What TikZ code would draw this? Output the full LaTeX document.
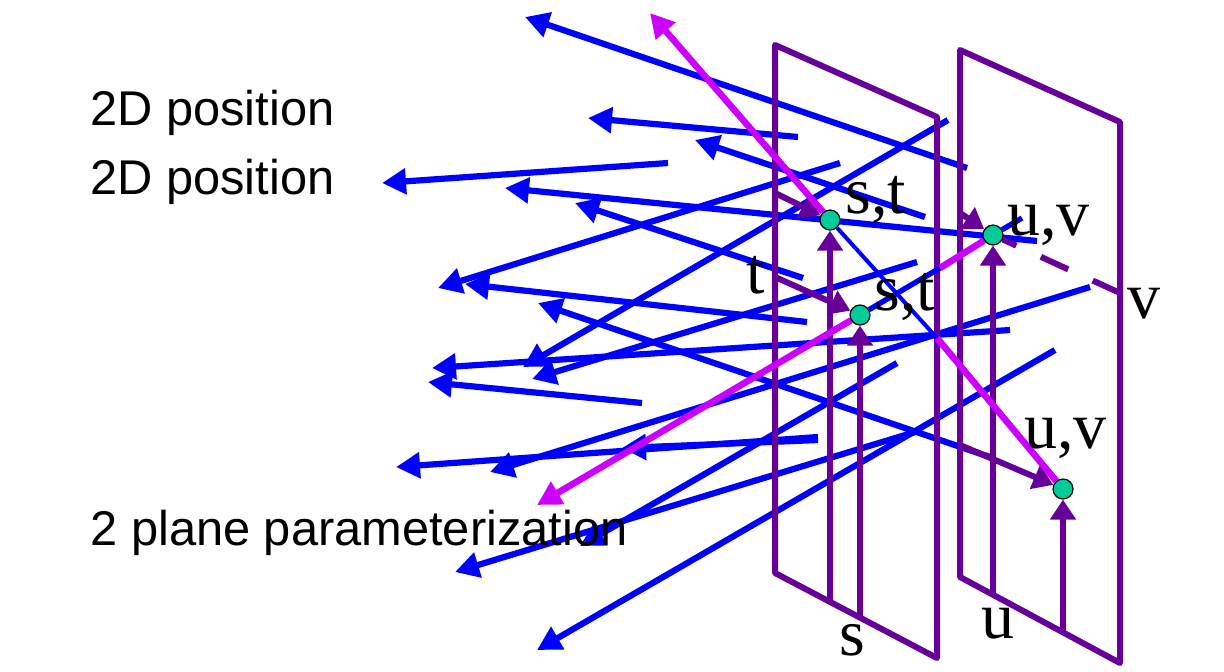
\documentclass[tikz,border=0pt]{standalone}
\usepackage{fontspec}
\setmainfont{Liberation Serif}
\newfontfamily\sidesans{Liberation Sans}
\definecolor{rayblue}{HTML}{0000FF}
\definecolor{planeviolet}{HTML}{660099}
\definecolor{beammagenta}{HTML}{CC00FF}
\definecolor{hitgreen}{HTML}{00CC99}
\usetikzlibrary{arrows.meta,backgrounds}

\begin{document}
\begin{tikzpicture}[x=0.5pt,y=-0.5pt,>={Triangle[length=12pt,width=12.5pt]},
  ray/.style={rayblue,line width=3.1pt,->},
  plane/.style={planeviolet,line width=3pt,line join=round},
  paxis/.style={planeviolet,line width=3pt,-{Triangle[length=10pt,width=12.5pt]}},
  beam/.style={beammagenta,line width=3.3pt},
  hit/.style={circle,draw=black,line width=0.6pt,fill=hitgreen,minimum size=10pt,inner sep=0pt},
  param/.style={font=\fontsize{33}{33}\selectfont,inner sep=0pt,anchor=base west},
  sidetext/.style={font=\sidesans\fontsize{24.4}{24.4}\selectfont,inner sep=0pt,anchor=base west}]
\useasboundingbox (0,0) rectangle (1224,671);
\node[hit] (st1) at (830,220) {};
\node[hit] (st2) at (860,315) {};
\node[hit] (uv1) at (993,235) {};
\node[hit] (uv2) at (1063,489) {};
\node[sidetext] (pos1) at (90,125) {2D position};
\node[sidetext] (pos2) at (90,194) {2D position};
\node[sidetext] (twoplane) at (90,545) {2 plane parameterization};
\node[param] (lst1) at (845,213) {s,t};
\node[param] (luv1) at (1007,235) {u,v};
\node[param] (lst2) at (874,310) {s,t};
\node[param] (lt) at (746,293) {t};
\node[param] (lv) at (1127,318) {v};
\node[param] (luv2) at (1024,448) {u,v};
\node[param] (ls) at (839,655) {s};
\node[param] (lu) at (981,638) {u};
\begin{scope}[on background layer]
\draw[ray] (967,168) -- (525,17);
\draw[ray] (798,137) -- (588,118);
\draw[ray] (925,217) -- (695,140);
\draw[ray] (668,163) -- (382,183);
\draw[ray] (1037,241) -- (505,188);
\draw[ray] (803,278) -- (575,203);
\draw[ray] (840,163) -- (438,288);
\draw[ray] (807,322) -- (465,284);
\draw[ray] (990,457) -- (538,303);
\draw[ray] (1010,330) -- (432,368);
\draw[ray] (642,403) -- (428,382);
\draw[ray] (948,120) -- (523,367);
\draw[ray] (917,262) -- (532,379);
\draw[ray] (818,437) -- (396,467);
\draw[ray] (818,440) -- (622,448);
\draw[ray] (1090,287) -- (490,472);
\draw[ray] (897,363) -- (580,546);
\draw[ray] (915,432) -- (455,572);
\draw[ray] (1055,350) -- (537,650);
\draw[plane] (775,45) -- (937,117) -- (937,658) -- (775,573) -- cycle;
\draw[plane] (960,50) -- (1120,122) -- (1120,663) -- (960,577) -- cycle;
\draw[paxis] (830,602) -- (st1);
\draw[paxis] (860,618) -- (st2);
\draw[paxis] (993,595) -- (uv1);
\draw[paxis] (1063,632) -- (uv2);
\draw[paxis] (775,193) -- (st1);
\draw[paxis] (775,277) -- (st2);
\draw[paxis] (960,213) -- (uv1);
\draw[paxis] (960,445) -- (uv2);
\draw[plane,dash pattern=on 15pt off 13.5pt] (1120,293) -- (uv1);
\draw[rayblue,line width=2pt] (st1) -- (937,338);
\draw[rayblue,line width=2.7pt] (st2) -- (940,268);
\draw[rayblue,line width=2.7pt] (uv1) -- (1022,218);
\draw[beam,->] (st1) -- (650,13);
\draw[beam] (937,338) -- (uv2);
\draw[beam,->] (st2) -- (537,505);
\draw[beam] (940,268) -- (uv1);
\end{scope}
\end{tikzpicture}
\end{document}
